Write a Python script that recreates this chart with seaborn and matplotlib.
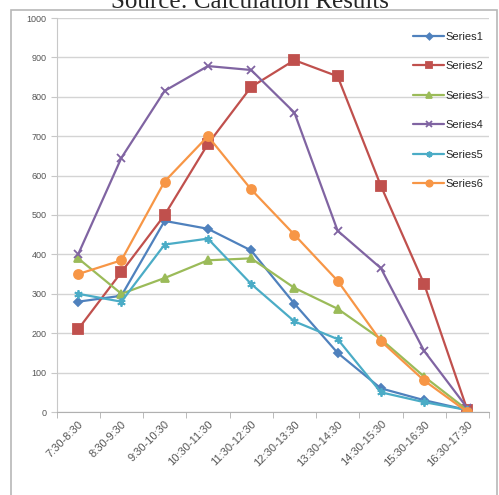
import seaborn as sns
import matplotlib.pyplot as plt
import pandas as pd
from matplotlib.patches import Rectangle

# --- dados ---
FAIXAS = ["7:30-8:30", "8:30-9:30", "9:30-10:30", "10:30-11:30", "11:30-12:30",
          "12:30-13:30", "13:30-14:30", "14:30-15:30", "15:30-16:30", "16:30-17:30"]

SERIES1 = [280, 295, 485, 465, 410, 275, 150, 60, 30, 5]
SERIES2 = [210, 355, 500, 680, 825, 893, 852, 574, 325, 5]
SERIES3 = [390, 300, 340, 385, 390, 315, 262, 185, 90, 5]
SERIES4 = [400, 645, 815, 878, 868, 760, 460, 365, 155, 10]
SERIES5 = [300, 280, 425, 440, 325, 230, 185, 50, 25, 5]
SERIES6 = [350, 385, 585, 700, 565, 450, 333, 180, 80, 0]

NOMES = ["Series1", "Series2", "Series3", "Series4", "Series5", "Series6"]
CORES = ["#4F81BD", "#C0504D", "#9BBB59", "#8064A2", "#4BACC6", "#F79646"]
MARCADORES = ["D", "s", "^", "x", (6, 2, 0), "o"]
TAMANHOS = [4.5, 6.5, 5.5, 6, 6, 6.5]


def montar_df():
    valores = [SERIES1, SERIES2, SERIES3, SERIES4, SERIES5, SERIES6]
    linhas = []
    for nome, vals in zip(NOMES, valores):
        for faixa, v in zip(FAIXAS, vals):
            linhas.append({"Faixa": faixa, "Valor": v, "Serie": nome})
    return pd.DataFrame(linhas)


def main():
    df = montar_df()
    sns.set_style("white")
    plt.rcParams["font.family"] = ["Liberation Sans", "DejaVu Sans"]

    fig = plt.figure(figsize=(4.99, 4.95), dpi=100)
    ax = fig.add_axes([56.5 / 499, 83 / 495, (489 - 56.5) / 499, (412 - 18) / 495])

    # moldura externa do gráfico (estilo Excel)
    fig.patches.append(Rectangle((11 / 499, -0.01), (497 - 11) / 499, 1.01 - 10 / 495,
                                 transform=fig.transFigure, fill=False,
                                 edgecolor="#b8b8b8", lw=1.2))

    for nome, cor, mk, ms in zip(NOMES, CORES, MARCADORES, TAMANHOS):
        sub = df[df["Serie"] == nome]
        sns.lineplot(data=sub, x="Faixa", y="Valor", ax=ax, sort=False,
                     color=cor, marker=mk, markersize=ms, linewidth=1.6,
                     markeredgecolor=cor, markeredgewidth=1.3, label=nome)

    ax.set_xlim(-0.5, len(FAIXAS) - 0.5)
    ax.set_ylim(0, 1000)
    ax.set_yticks(range(0, 1001, 100))
    ax.set_xlabel("")
    ax.set_ylabel("")

    ax.yaxis.grid(True, color="#d4d4d4", lw=1)
    ax.set_axisbelow(True)
    for lado in ["top", "right"]:
        ax.spines[lado].set_visible(False)
    ax.spines["left"].set_color("#c8c8c8")
    ax.spines["bottom"].set_color("#b0b0b0")

    ax.tick_params(axis="y", labelsize=6.5, colors="#555555", length=4,
                   color="#c8c8c8", direction="out", pad=3, left=True)
    ax.tick_params(axis="x", labelsize=8, colors="#555555", length=0, pad=5)
    for lbl in ax.get_xticklabels():
        lbl.set_rotation(45)
        lbl.set_ha("right")
        lbl.set_rotation_mode("anchor")

    # marcas entre categorias
    ax.set_xticks([i + 0.5 for i in range(-1, len(FAIXAS))], minor=True)
    ax.tick_params(axis="x", which="minor", length=4, color="#b0b0b0",
                   direction="out", bottom=True)

    ax.legend(loc="upper right", bbox_to_anchor=(1.01, 0.99), frameon=False,
              fontsize=8, labelspacing=1.75, handlelength=2.8,
              handletextpad=0.1, borderpad=0.4, markerscale=0.7)

    fig.text(0.5, 1 - 8 / 495, "Source: Calculation Results", ha="center",
             va="baseline", fontsize=18, family=["Liberation Serif", "DejaVu Serif"])

    fig.savefig("out.png", dpi=100)


if __name__ == "__main__":
    main()
